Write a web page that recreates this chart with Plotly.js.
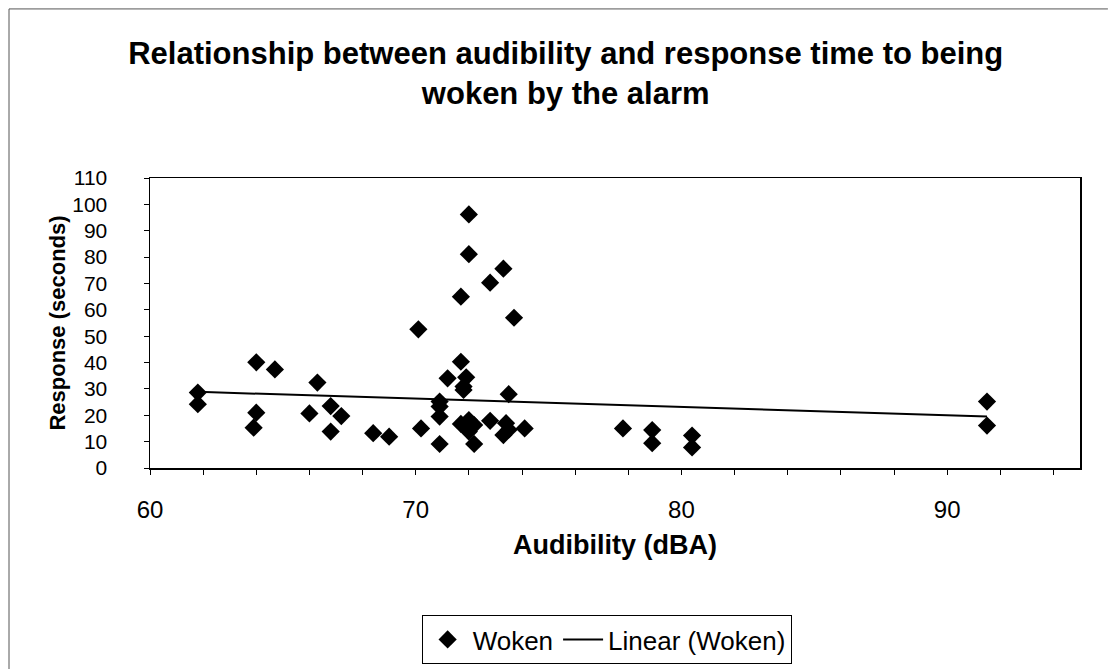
<!DOCTYPE html>
<html>
<head>
<meta charset="utf-8">
<script src="https://cdn.plot.ly/plotly-3.0.1.min.js"></script>
<style>html,body{margin:0;padding:0;background:#fff;}#chart{width:1108px;height:669px;}</style>
</head>
<body>
<div id="chart"></div>
<script>
// Woken: audibility (dBA) and response time (seconds)
var audibility = [61.8, 61.8, 64.0, 64.7, 64.0, 63.9, 66.3, 66.0, 66.8, 67.2, 66.8, 68.4, 69.0,
  72.0, 72.0, 73.3, 72.8, 71.7, 73.7, 70.1, 71.7, 71.2, 71.9, 71.8, 71.8, 73.5,
  70.9, 70.9, 70.9, 70.2, 70.9, 72.2, 71.7, 72.0, 72.2, 72.0, 72.8, 71.9,
  73.4, 73.3, 74.1, 73.5, 77.8, 78.9, 78.9, 80.4, 80.4, 91.5, 91.5];
var response = [28.6, 24.2, 40.1, 37.4, 21.0, 15.3, 32.4, 20.7, 23.5, 19.7, 13.8, 13.2, 11.9,
  96.2, 81.1, 75.6, 70.3, 65.0, 57.0, 52.6, 40.3, 34.0, 34.4, 30.9, 29.6, 28.0,
  25.2, 23.3, 19.5, 15.0, 9.1, 9.1, 16.7, 18.2, 16.3, 13.8, 17.9, 15.5,
  17.0, 12.5, 15.0, 14.5, 15.0, 14.4, 9.4, 12.3, 7.8, 25.2, 16.1];
// Linear (Woken) trend line end points
var trendX = [61.8, 91.5];
var trendY = [28.9, 19.5];
// Axis ticks
var xTickVals = [60, 62, 64, 66, 68, 70, 72, 74, 76, 78, 80, 82, 84, 86, 88, 90, 92, 94];
var xTickText = ['60', '', '', '', '', '70', '', '', '', '', '80', '', '', '', '', '90', '', ''];
var yTickVals = [0, 10, 20, 30, 40, 50, 60, 70, 80, 90, 100, 110];

var sans = 'Liberation Sans, Arial, sans-serif';

var traces = [
  {
    type: 'scatter', mode: 'markers', name: 'Woken',
    x: audibility, y: response,
    marker: {symbol: 'diamond', size: 14, color: '#000000'},
    cliponaxis: false
  },
  {
    type: 'scatter', mode: 'lines', name: 'Linear (Woken)',
    x: trendX, y: trendY,
    line: {color: '#000000', width: 2}
  }
];

var layout = {
  width: 1108, height: 669,
  paper_bgcolor: '#ffffff', plot_bgcolor: '#ffffff',
  margin: {l: 150, r: 28, t: 178, b: 201, pad: 0, autoexpand: false},
  showlegend: true,
  title: {
    text: '<b>Relationship between audibility and response time to being<br>woken by the alarm</b>',
    font: {family: sans, size: 31, color: '#000000'},
    x: 0.447, xanchor: 'center', xref: 'paper',
    y: 0.905, yanchor: 'top', yref: 'container'
  },
  xaxis: {
    range: [60, 95], tickmode: 'array', tickvals: xTickVals, ticktext: xTickText,
    ticks: 'outside', ticklen: 5, tickcolor: '#000', tickwidth: 1,
    ticklabelstandoff: 15, automargin: false,
    showline: true, mirror: true, linecolor: '#000', linewidth: 1.5,
    showgrid: false, zeroline: false,
    tickfont: {family: sans, size: 24, color: '#000'},
    title: {text: '<b>Audibility (dBA)</b>', font: {family: sans, size: 27, color: '#000'}, standoff: 13}
  },
  yaxis: {
    range: [0, 110], tickmode: 'array', tickvals: yTickVals,
    ticks: 'outside', ticklen: 5, tickcolor: '#000', tickwidth: 1,
    ticklabelstandoff: 32, automargin: false,
    showline: true, mirror: true, linecolor: '#000', linewidth: 1.5,
    showgrid: false, zeroline: false,
    tickfont: {family: sans, size: 21, color: '#000'},
    title: {text: '<b>Response (seconds)</b>', font: {family: sans, size: 22, color: '#000'}, standoff: 0}
  },
  legend: {
    orientation: 'h', x: 0.491, xanchor: 'center', y: -0.507, yanchor: 'top',
    bordercolor: '#000', borderwidth: 1, bgcolor: '#fff',
    font: {family: sans, size: 26, color: '#000'}, itemwidth: 40
  },
  shapes: [
    {type: 'line', xref: 'paper', yref: 'paper', x0: -0.1516, x1: 1.03, y0: 1.583, y1: 1.583,
      line: {color: '#555', width: 1}},
    {type: 'line', xref: 'paper', yref: 'paper', x0: -0.1516, x1: -0.1516, y0: 1.583, y1: -0.7,
      line: {color: '#555', width: 1}}
  ]
};

Plotly.newPlot('chart', traces, layout, {displayModeBar: false, staticPlot: true});
</script>
</body>
</html>
